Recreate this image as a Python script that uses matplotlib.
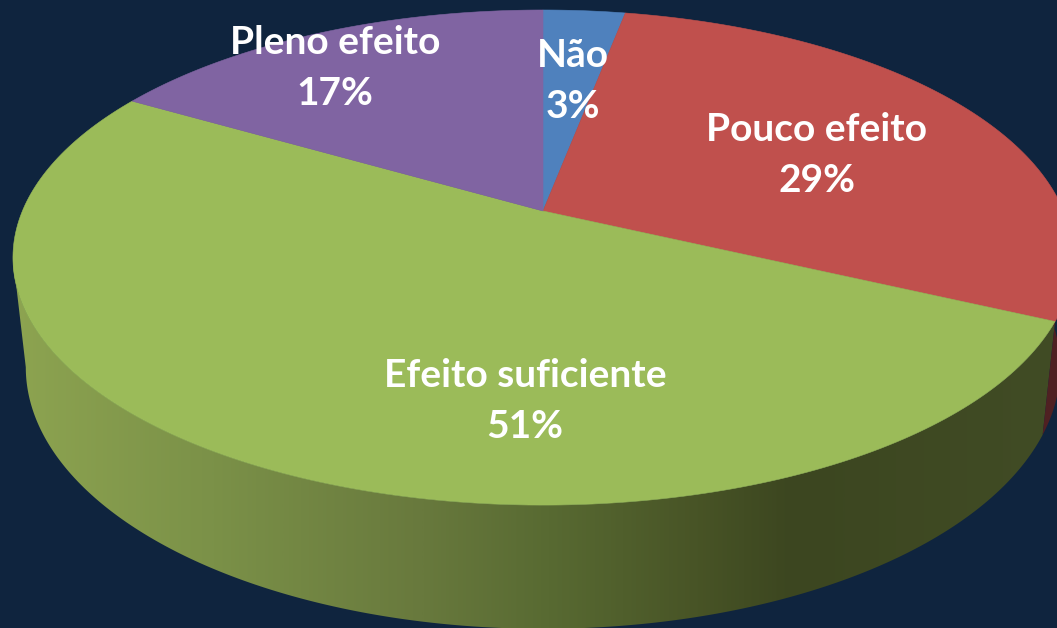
import numpy as np
import matplotlib.pyplot as plt
from matplotlib.colors import LinearSegmentedColormap
from matplotlib.patches import Polygon

# slices, clockwise from 12 o'clock
categories = ['Não', 'Pouco efeito', 'Efeito suficiente', 'Pleno efeito']
percents = [3, 29, 51.4, 16.6]

BG = '#0f243e'
top_colors = ['#4f81bd', '#c0504d', '#9bbb59', '#8064a2']
label_centers = [(573, 81), (817, 155), (525, 401), (335, 68)]

# projection of the pie disc (pixels)
CX = 543
TOP = (211, 520.6, 238.8)      # centre y, x radius, y radius
BOTTOM = (318, 508, 252.4)
PERSP = 0.188

# shading of the green wall, dark towards the right
wall_cmap = LinearSegmentedColormap.from_list(
    'wall', [(0.0, '#8ea551'), (0.2, '#7b9148'), (0.4, '#68793d'), (0.52, '#586a32'),
             (0.66, '#485426'), (0.75, '#3c4620'), (1.0, '#414c25')])
RED_WALL = '#4f2022'


def project(deg, plane):
    # deg is measured clockwise from the back of the pie
    cy, rx, ry = plane
    t = np.radians(deg)
    u, v = np.sin(t), np.cos(t)
    w = 1 + PERSP * v
    return np.column_stack([CX + rx * u / w, cy - ry * v / w])


def wall_outline(start, end):
    angles = np.linspace(start, end, 300)
    return np.vstack([project(angles, TOP), project(angles[::-1], BOTTOM)])


fig = plt.figure(figsize=(10.57, 6.28), dpi=100, facecolor=BG)
ax = fig.add_axes([0, 0, 1, 1])
ax.set_xlim(0, 1057)
ax.set_ylim(628, 0)
ax.axis('off')

edges = np.concatenate([[0], np.cumsum(percents)]) * 3.6

# red side wall
ax.add_patch(Polygon(wall_outline(90, edges[2]), closed=True, facecolor=RED_WALL, edgecolor='none'))

# green side wall, gradient clipped to its outline; stops where the rim turns away
tangent = 360 - np.degrees(np.arccos(-PERSP))
green_wall = Polygon(wall_outline(edges[2], tangent), closed=True, facecolor='none', edgecolor='none')
ax.add_patch(green_wall)
gradient = ax.imshow(np.linspace(0, 1, 512).reshape(1, -1), cmap=wall_cmap, vmin=0, vmax=1,
                     extent=(0, 1057, 628, 0), aspect='auto')
gradient.set_clip_path(green_wall)
ax.set_xlim(0, 1057)
ax.set_ylim(628, 0)

# top face
for i in range(len(percents)):
    rim = project(np.linspace(edges[i], edges[i + 1], 200), TOP)
    pts = np.vstack([[[CX, TOP[0]]], rim])
    ax.add_patch(Polygon(pts, closed=True, facecolor=top_colors[i], edgecolor=top_colors[i], linewidth=0.4))

for name, pct, (x, y) in zip(categories, percents, label_centers):
    ax.text(x, y, f'{name}\n{round(pct)}%', color='white', fontsize=28, fontweight='bold',
            family=['Lato', 'DejaVu Sans'], ha='center', va='center', linespacing=1.52)

fig.savefig('out.png', dpi=100, facecolor=BG)
